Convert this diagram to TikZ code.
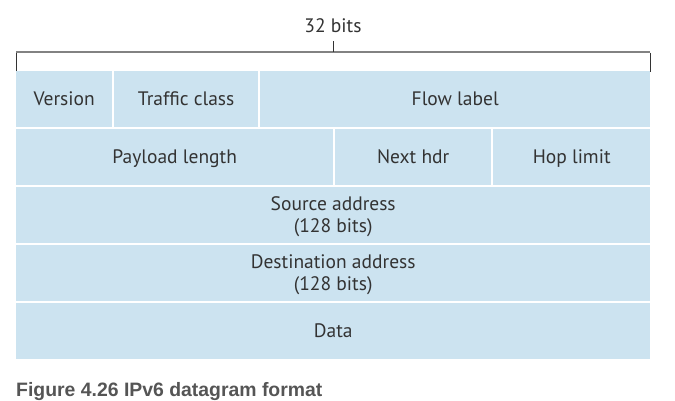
\documentclass[tikz,border=0pt]{standalone}
\usepackage{fontspec}
\setmainfont{PT Sans}
\newfontfamily\capfont{Liberation Sans}
\definecolor{cellblue}{RGB}{204,227,240}
\definecolor{txtgray}{RGB}{51,51,51}
\definecolor{capgray}{RGB}{85,85,85}
\definecolor{brgray}{RGB}{130,130,130}
\begin{document}
\begin{tikzpicture}[x=1pt,y=-1pt,
  cell/.style={fill=cellblue, draw=none, anchor=north west, inner sep=0pt,
    text=txtgray, font=\fontsize{19.5}{22}\selectfont, align=center,
    text height=13.5pt, text depth=0pt, minimum height=56pt},
  twoline/.style={text height=35.5pt},
  bracket/.style={draw=brgray, line width=1.5pt},
  tick/.style={draw=txtgray, line width=1pt}]
\useasboundingbox (0,0) rectangle (675,401);
% bracket
\coordinate (bl) at (16,52);
\coordinate (br) at (650,52);
\coordinate (bm) at (333,52);
\draw[bracket] (bl) -- (br);
\draw[tick] ([yshift=-0.75pt]bl) -- ++(0,19);
\draw[tick] ([yshift=-0.75pt]br) -- ++(0,19);
\draw[tick] (bm) -- ++(0,-11);
\node[text=txtgray, font=\fontsize{19.5}{22}\selectfont, anchor=base] (bits) at (333,33) {32 bits};
% row 1
\node[cell, minimum width=96pt] (ver) at (16,71) {Version};
\node[cell, minimum width=144pt] (tc) at (114,71) {Traffic class};
\node[cell, minimum width=390pt] (fl) at (260,71) {Flow label};
% row 2
\node[cell, minimum width=317pt] (pl) at (16,129) {Payload length};
\node[cell, minimum width=156pt] (nh) at (335,129) {Next hdr};
\node[cell, minimum width=157pt] (hl) at (493,129) {Hop limit};
% rows 3-5
\node[cell, twoline, minimum width=634pt] (src) at (16,187) {Source address\\(128 bits)};
\node[cell, twoline, minimum width=634pt] (dst) at (16,245) {Destination address\\(128 bits)};
\node[cell, minimum width=634pt] (data) at (16,303) {Data};
% caption
\node[anchor=base west, inner sep=0pt, text=capgray, font=\capfont\bfseries\fontsize{19.4}{21}\selectfont] (cap) at (16,396) {Figure 4.26 IPv6 datagram format};
\end{tikzpicture}
\end{document}
